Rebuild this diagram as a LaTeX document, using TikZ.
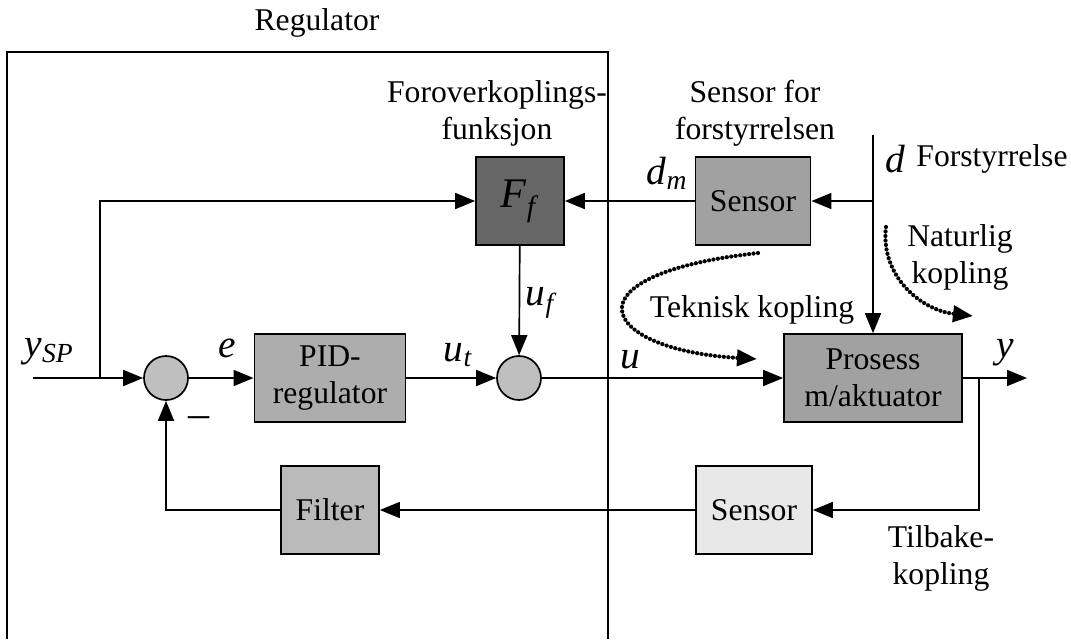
\documentclass[tikz,border=0pt]{standalone}
\usepackage{fontspec}
\setmainfont{Liberation Serif}[ItalicFont={Liberation Serif Italic}]
\usetikzlibrary{arrows.meta}
\definecolor{ffgray}{gray}{0.40}
\definecolor{sensgray}{gray}{0.63}
\definecolor{pidgray}{gray}{0.68}
\definecolor{filtgray}{gray}{0.73}
\definecolor{lysgray}{gray}{0.91}
\definecolor{sumgray}{gray}{0.75}
\newcommand{\signal}[2]{\textit{#1}\textsubscript{\textit{#2}}}
\tikzset{
    tekst/.style={font=\fontsize{22.5}{26.3}\selectfont, align=center, inner sep=0pt},
    symb/.style={font=\fontsize{28}{30}\selectfont\itshape, inner sep=0pt},
    blokk/.style={draw, tekst, line width=1.2pt, minimum width=#1, minimum height=2.2cm},
    sum/.style={draw, circle, line width=1.2pt, fill=sumgray, minimum size=1.1cm, inner sep=0pt},
    linje/.style={line width=1.2pt},
    pil/.style={linje, -{Triangle[length=0.5cm, width=0.4cm]}},
    prikk/.style={line width=3pt, line cap=round, dash pattern=on 0pt off 3.2pt,
                  -{Triangle[length=0.5cm, width=0.4cm]}},
  }

\begin{document}
\begin{tikzpicture}[x=0.025cm, y=-0.025cm]
                                    \useasboundingbox (0,0) rectangle (1071,639);
                                    %regulatorboks (aapen nede)
                                    \draw [linje] (7,639) -- (7,52) -- (608,52) -- (608,639);
                                    \node[tekst] (regtekst) at (317,23) {Regulator};
                                    %blokker
                                    \node[blokk=2.2cm, fill=ffgray] (ff) at (520,201) {\fontsize{30}{30}\selectfont\signal{F}{f}};
                                    \node[blokk=2.88cm, fill=sensgray] (sens1) at (753,201) {Sensor};
                                    \node[blokk=3.78cm, fill=pidgray] (pid) at (330,378) {PID-\\regulator};
                                    \node[blokk=4.45cm, fill=sensgray] (prosess) at (873,378) {Prosess\\m/aktuator};
                                    \node[blokk=2.45cm, fill=filtgray] (filter) at (330,510) {Filter};
                                    \node[blokk=2.9cm, fill=lysgray] (sens2) at (754,510) {Sensor};
                                    \node[sum] (sum1) at (166,378) {};
                                    \node[sum] (sum2) at (519,378) {};
                                    %hjelpepunkter
                                    \coordinate (inn) at (33,378);
                                    \coordinate (gren) at (100,378);
                                    \coordinate (ut) at (1027,378);
                                    \coordinate (ygren) at (979,378);
                                    \coordinate (dtopp) at (873,135);
                                    \coordinate (dgren) at (873,201);
                                    %signaler
                                    \draw [pil] (inn) -- (sum1);
                                    \draw [pil] (gren) |- (ff);
                                    \draw [pil] (sum1) -- (pid);
                                    \draw [pil] (pid) -- (sum2);
                                    \draw [pil] (ff) -- (sum2);
                                    \draw [pil] (sum2) -- (prosess);
                                    \draw [pil] (prosess) -- (ut);
                                    \draw [pil] (dtopp) -- (prosess);
                                    \draw [pil] (dgren) -- (sens1);
                                    \draw [pil] (sens1) -- (ff);
                                    \draw [pil] (ygren) |- (sens2);
                                    \draw [pil] (sens2) -- (filter);
                                    \draw [pil] (filter) -| (sum1);
                                    %koplinger
                                    \draw [prikk] (758,253) .. controls (560,275) and (600,350) .. (757,359);
                                    \draw [prikk] (886,227) .. controls (880,275) and (920,310) .. (973,316);
                                    %tekster
                                    \node[tekst] (fftekst) at (497,113) {Foroverkoplings-\\funksjon};
                                    \node[tekst] (senstekst) at (755,113) {Sensor for\\forstyrrelsen};
                                    \node[tekst] (dtekst) at (992,159) {Forstyrrelse};
                                    \node[tekst] (nattekst) at (960,257) {Naturlig\\kopling};
                                    \node[tekst] (tektekst) at (752,310) {Teknisk kopling};
                                    \node[tekst] (tilbtekst) at (941,558) {Tilbake-\\kopling};
                                    \node[symb] (ysp) at (49,352) {\signal{y}{SP}};
                                    \node[symb] (e) at (227,348) {e};
                                    \node[symb] (ut1) at (458,355) {\signal{u}{t}};
                                    \node[symb] (uf) at (540,303) {\signal{u}{f}};
                                    \node[symb] (u) at (630,360) {u};
                                    \node[symb] (y) at (1005,353) {y};
                                    \node[symb] (d) at (895,159) {d};
                                    \node[symb] (dm) at (667,173) {\signal{d}{m}};
                                    \node[tekst] (minus) at (199,422) {\fontsize{30}{30}\selectfont –};
\end{tikzpicture}
\end{document}
